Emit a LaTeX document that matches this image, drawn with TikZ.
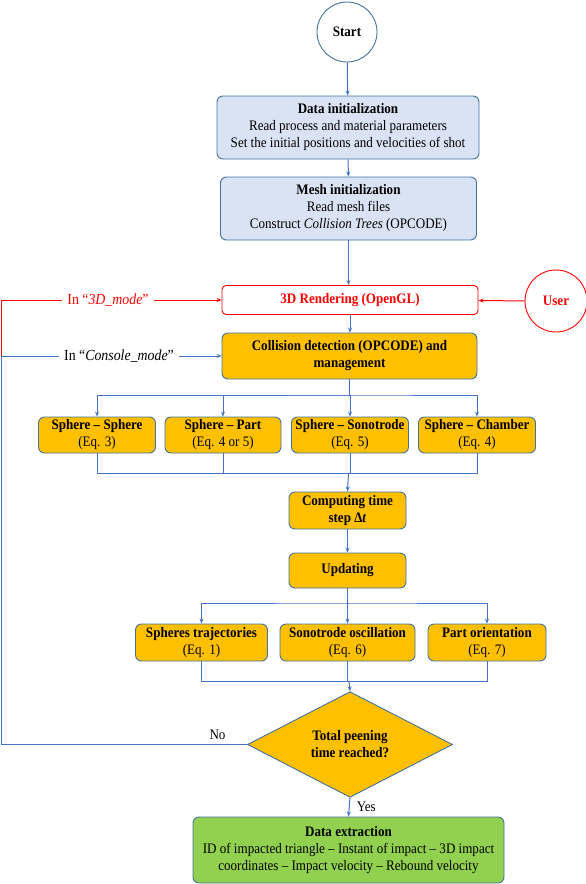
\documentclass[tikz,border=0pt]{standalone}
\usepackage{fontspec}
\setmainfont{Liberation Serif}[FakeStretch=0.9]
\usepackage{tikz}
\usetikzlibrary{arrows.meta}
\usetikzlibrary{positioning,shapes.geometric}
\definecolor{lineblue}{HTML}{4472C4}
\definecolor{edgeblue}{HTML}{41719C}
\definecolor{initblue}{HTML}{DAE3F3}
\definecolor{stepgold}{HTML}{FFC000}
\definecolor{endgreen}{HTML}{92D050}
\definecolor{modered}{HTML}{FF0000}
\newcommand{\boxfont}{\fontsize{14.5}{17}\selectfont}
\tikzset{
    box/.style={
        draw=edgeblue,
        rounded corners=6pt,
        line width=0.9pt,
        align=center,
        inner sep=2pt,
        font=\boxfont
    },
    initbox/.style={box, fill=initblue},
    calcbox/.style={box, fill=stepgold},
    endbox/.style={box, fill=endgreen},
    flow/.style={
        draw=lineblue,
        line width=1pt
    },
    flowarrow/.style={
        flow,
        -{Stealth[length=5pt, width=4pt]}
    },
    modelabel/.style={font=\fontsize{15.4}{17}\selectfont, inner sep=5pt}
}

\begin{document}
\begin{tikzpicture}[x=1pt, y=-1pt]
  \useasboundingbox (0,0) rectangle (586,884);
  % Start and initialization
  \node[draw=edgeblue, line width=0.9pt, circle, minimum size=60pt, font=\boxfont\bfseries] (start) at (347,32) {Start};
  \node[initbox, minimum width=262pt, minimum height=63pt] (datainit) at (348,127.5)
    {\textbf{Data initialization}\\Read process and material parameters\\Set the initial positions and velocities of shot};
  \node[initbox, minimum width=256pt, minimum height=63pt] (meshinit) at (348.5,208.5)
    {\textbf{Mesh initialization}\\Read mesh files\\Construct \textit{Collision Trees} (OPCODE)};

  % Rendering and user
  \node[box, draw=modered, fill=white, rounded corners=4pt, text=modered, font=\boxfont\bfseries,
    minimum width=256pt, minimum height=29pt] (render) at (350,300) {3D Rendering (OpenGL)};
  \node[draw=modered, line width=0.9pt, circle, minimum size=62pt, text=modered, font=\boxfont\bfseries] (user) at (556,301) {User};

  % Collision detection
  \node[calcbox, minimum width=255pt, minimum height=46pt, font=\boxfont\bfseries] (collision) at (349.5,356)
    {Collision detection (OPCODE) and\\management};
  \node[calcbox, minimum width=117pt, minimum height=36pt] (sphsph) at (97,435) {\textbf{Sphere -- Sphere}\\(Eq. 3)};
  \node[calcbox, minimum width=116pt, minimum height=36pt] (sphpart) at (223,435) {\textbf{Sphere -- Part}\\(Eq. 4 or 5)};
  \node[calcbox, minimum width=117pt, minimum height=36pt] (sphsono) at (350,435) {\textbf{Sphere -- Sonotrode}\\(Eq. 5)};
  \node[calcbox, minimum width=117pt, minimum height=36pt] (sphcham) at (477,435) {\textbf{Sphere -- Chamber}\\(Eq. 4)};

  % Time step and updating
  \node[calcbox, minimum width=117pt, minimum height=37pt, font=\boxfont\bfseries] (timestep) at (347.5,510.5)
    {Computing time\\step Δ\textit{t}};
  \node[calcbox, minimum width=117pt, minimum height=35pt, font=\boxfont\bfseries] (updating) at (347.5,570.5) {Updating};
  \node[calcbox, minimum width=132pt, minimum height=37pt] (trajec) at (201.5,642.5) {\textbf{Spheres trajectories}\\(Eq. 1)};
  \node[calcbox, minimum width=135pt, minimum height=37pt] (sonosc) at (347.5,642.5) {\textbf{Sonotrode oscillation}\\(Eq. 6)};
  \node[calcbox, minimum width=118pt, minimum height=37pt] (partor) at (487,642.5) {\textbf{Part orientation}\\(Eq. 7)};

  % Decision and extraction
  \node[draw=edgeblue, line width=0.9pt, fill=stepgold, diamond, inner sep=0pt, minimum width=205pt, minimum height=63pt,
    align=center, font=\boxfont\bfseries] (total) at (350,744.5) {Total peening\\time reached?};
  \node[endbox, minimum width=311pt, minimum height=66pt] (extract) at (348.5,850)
    {\textbf{Data extraction}\\ID of impacted triangle -- Instant of impact -- 3D impact\\coordinates -- Impact velocity -- Rebound velocity};

  % Mode labels and loop corners
  \node[modelabel, text=modered] (mode3d) at (108,300) {In “\textit{3D\_mode}”};
  \node[modelabel] (modecons) at (119,356) {In “\textit{Console\_mode}”};
  \coordinate (loop3d) at (1,300);
  \coordinate (loopcons) at (1,356);
  \coordinate (loopno) at (1,744.5);
  \coordinate (forkA) at (348.5,395);
  \coordinate (joinA) at (348.5,473);
  \coordinate (forkB) at (348.5,603);
  \coordinate (joinB) at (349,681);

  % Main column
  \draw[flowarrow] (start) -- (datainit);
  \draw[flowarrow] (datainit) -- (meshinit);
  \draw[flowarrow] (meshinit.south) -- (meshinit.south |- render.north);
  \draw[flowarrow] (render.south) -- (render.south |- collision.north);
  \draw[flowarrow, draw=modered] (user) -- (render);

  % Collision branches
  \foreach \b in {sphsph,sphpart,sphsono,sphcham}
    \draw[flowarrow] (collision.south) |- (forkA) -| (\b.north);
  \foreach \b in {sphsph,sphpart,sphsono,sphcham}
    \draw[flow] (\b.south) |- (joinA);
  \draw[flowarrow] (joinA) -- (timestep.north);
  \draw[flowarrow] (timestep) -- (updating);

  % Updating branches
  \foreach \b in {trajec,sonosc,partor}
    \draw[flowarrow] (updating.south) |- (forkB) -| (\b.north);
  \foreach \b in {trajec,sonosc,partor}
    \draw[flow] (\b.south) |- (joinB);
  \draw[flowarrow] (joinB) -- (total.north);
  \draw[flowarrow] (total.south) -- node[right, inner sep=7pt] {\boxfont Yes} (extract.north);

  % Loop back
  \draw[flow] (total.west) -- node[above, pos=0.12, inner sep=4pt] {\boxfont No} (loopno) -- (loopcons) -- (modecons.west);
  \draw[flowarrow] (modecons.east) -- (collision.west);
  \draw[flow, draw=modered] (loopcons) -- (loop3d) -- (mode3d.west);
  \draw[flowarrow, draw=modered] (mode3d.east) -- (render.west);
\end{tikzpicture}
\end{document}
